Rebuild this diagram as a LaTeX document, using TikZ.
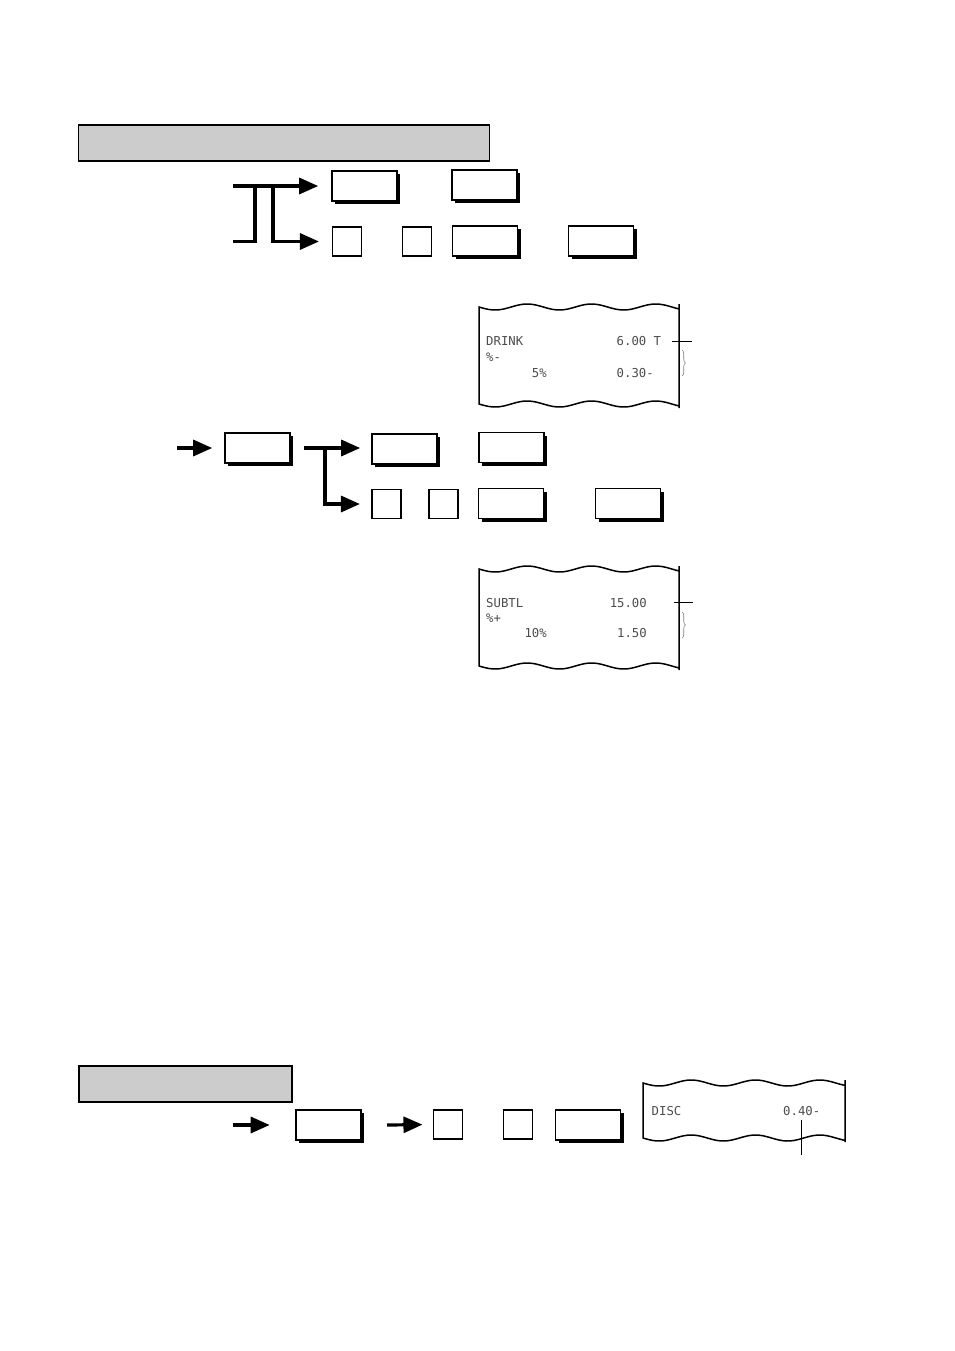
\documentclass[tikz,border=0pt]{standalone}
\usepackage{fontspec}
\usepackage{tikz}
\usetikzlibrary{arrows.meta,shadows,decorations.pathreplacing}
\newfontfamily\rcptfont{DejaVu Sans Mono}

\begin{document}
\begin{tikzpicture}[x=1pt,y=-1pt,
  keybox/.style={draw,line width=1.6pt,fill=white,minimum width=65pt,minimum height=30pt,inner sep=0pt,
    drop shadow={shadow xshift=3pt,shadow yshift=-3pt,fill=black,opacity=1}},
  sqbox/.style={draw,line width=1.1pt,fill=white,minimum width=29pt,minimum height=29pt,inner sep=0pt},
  flow/.style={line width=3.2pt,-{Triangle[length=19pt,width=16pt]}},
  rcpt/.style={font=\rcptfont\fontsize{12.3}{14}\selectfont,text=black!70,inner sep=0pt},
  title/.style={draw,line width=1.8pt,fill=black!20,inner sep=0pt,anchor=north west}]
  \useasboundingbox (0,0) rectangle (954,1351);

  % Header bars
  \node[title,minimum width=411pt,minimum height=36pt] (hdrA) at (77.5,124) {};
  \node[title,minimum width=213pt,minimum height=36pt] (hdrB) at (78,1065) {};

  % First key sequence
  \node[keybox] (key11) at (364.5,186) {};
  \node[keybox] (key12) at (484.5,185) {};
  \node[sqbox] (sq11) at (347,241.5) {};
  \node[sqbox] (sq12) at (417,241.5) {};
  \node[keybox] (key13) at (485,241) {};
  \node[keybox] (key14) at (601,241) {};
  \coordinate (inA) at (233,186);
  \coordinate (inB) at (233,241.5);
  \coordinate (jA) at (255,186);
  \coordinate (jB) at (273,186);
  \draw[flow,shorten >=13pt] (inA) -- (key11.west);
  \draw[line width=3.2pt] (inB) -| (jA);
  \draw[flow,shorten >=13pt] (jB) |- (sq11.west);

  % Receipt 1
  \draw[line width=1.5pt] (479,404) -- (479,307)
    -- plot[domain=479:679,samples=60,smooth] (\x,{307+3*sin((\x-479)*5.6)})
    -- (679,304) -- (679,408)
    -- plot[domain=679:479,samples=60,smooth] (\x,{404+3*sin((\x-479)*5.6)}) -- cycle;
  \node[rcpt,anchor=base west] (r1a) at (486,345.5) {DRINK};
  \node[rcpt,anchor=base west] (r1b) at (616.5,345.5) {6.00 T};
  \node[rcpt,anchor=base west] (r1c) at (486,361) {\%-};
  \node[rcpt,anchor=base east] (r1d) at (547,377) {5\%};
  \node[rcpt,anchor=base west] (r1e) at (616.5,377) {0.30-};
  \draw[line width=0.8pt] ([xshift=11pt]r1b.east) -- ++(20,0);
  \draw[gray,line width=0.6pt,decorate,decoration={brace,amplitude=3.5pt}] (682,350) -- (682,376);

  % Second key sequence
  \node[keybox] (key20) at (257.5,448) {};
  \node[keybox] (key21) at (404.5,449) {};
  \node[keybox] (key22) at (511.5,447.5) {};
  \node[sqbox] (sq21) at (386.5,504) {};
  \node[sqbox] (sq22) at (443.5,504) {};
  \node[keybox] (key23) at (511,503.5) {};
  \node[keybox] (key24) at (628,503.5) {};
  \coordinate (inC) at (177,448);
  \coordinate (jC) at (304,448);
  \coordinate (jD) at (325,448);
  \draw[flow,shorten >=12pt] (inC) -- (key20.west);
  \draw[flow,shorten >=11pt] (jC) -- (jC -| key21.west);
  \draw[flow,shorten >=11.5pt] (jD) |- (sq21.west);

  % Receipt 2
  \draw[line width=1.5pt] (479,666) -- (479,569)
    -- plot[domain=479:679,samples=60,smooth] (\x,{569+3*sin((\x-479)*5.6)})
    -- (679,566) -- (679,670)
    -- plot[domain=679:479,samples=60,smooth] (\x,{666+3*sin((\x-479)*5.6)}) -- cycle;
  \node[rcpt,anchor=base west] (r2a) at (486,607) {SUBTL};
  \node[rcpt,anchor=base east] (r2b) at (647,607) {15.00};
  \node[rcpt,anchor=base west] (r2c) at (486,622) {\%+};
  \node[rcpt,anchor=base east] (r2d) at (547,637) {10\%};
  \node[rcpt,anchor=base east] (r2e) at (647,637) {1.50};
  \draw[line width=0.8pt] ([xshift=27pt]r2b.east) -- ++(19,0);
  \draw[gray,line width=0.6pt,decorate,decoration={brace,amplitude=3.5pt}] (682,612) -- (682,638);

  % Third key sequence
  \node[keybox] (key31) at (328.5,1125) {};
  \node[sqbox] (sq31) at (448,1124.5) {};
  \node[sqbox] (sq32) at (518,1124.5) {};
  \node[keybox] (key32) at (588,1125) {};
  \coordinate (inD) at (233,1125);
  \coordinate (jE) at (387,1125);
  \draw[flow,shorten >=25.5pt] (inD) -- (key31.west);
  \draw[flow,shorten >=10.5pt] (jE) -- (sq31.west);

  % Receipt 3
  \draw[line width=1.5pt] (643,1138) -- (643,1083)
    -- plot[domain=643:845,samples=60,smooth] (\x,{1083+3*sin((\x-643)*5.6)})
    -- (845,1080) -- (845,1142)
    -- plot[domain=845:643,samples=60,smooth] (\x,{1138+3*sin((\x-643)*5.6)}) -- cycle;
  \node[rcpt,anchor=base west] (r3a) at (651.5,1115) {DISC};
  \node[rcpt,anchor=base west] (r3b) at (783,1115) {0.40-};
  \draw[line width=0.8pt] ([yshift=-5pt]r3b.south) -- ++(0,35);
\end{tikzpicture}
\end{document}
